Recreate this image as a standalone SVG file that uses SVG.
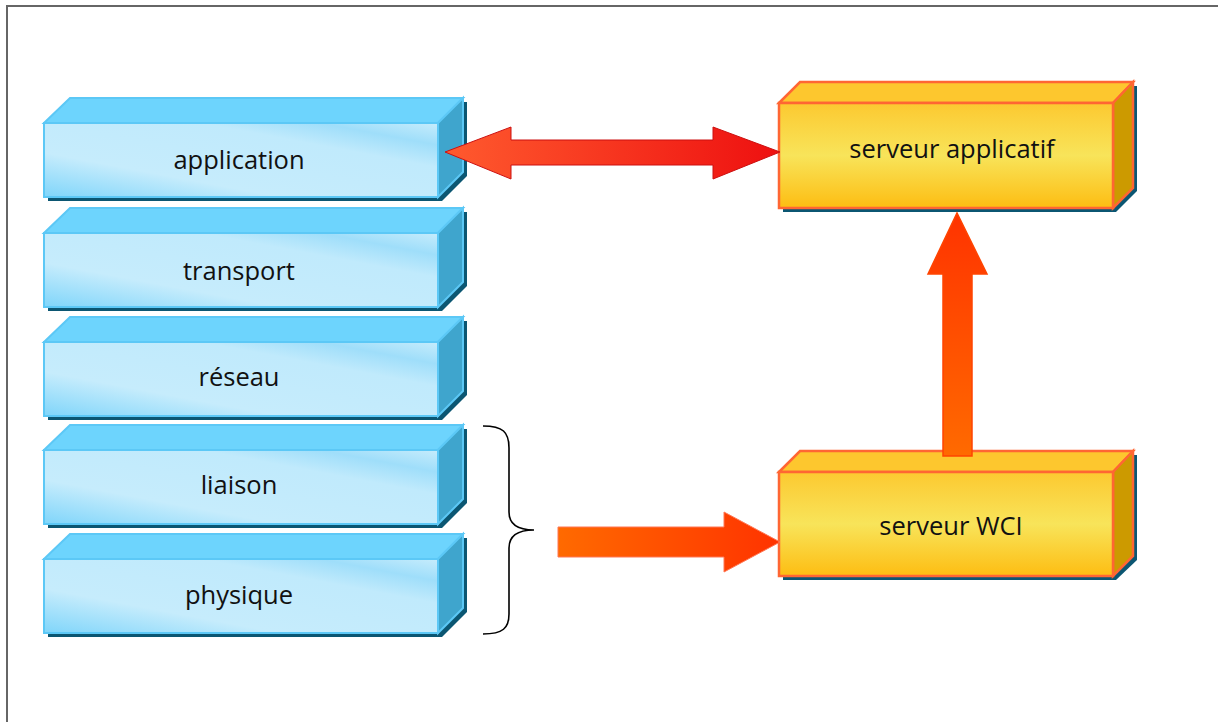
<svg xmlns="http://www.w3.org/2000/svg" width="1218" height="722" viewBox="0 0 1218 722">
<defs>
<linearGradient id="blueFront" x1="0" y1="1" x2="1" y2="0">
<stop offset="0" stop-color="#7fd5fa"/>
<stop offset="0.3" stop-color="#c6ecfc"/>
<stop offset="0.7" stop-color="#c0eafc"/>
<stop offset="0.85" stop-color="#9fdefa"/>
<stop offset="1" stop-color="#c6ecfc"/>
</linearGradient>
<linearGradient id="yellowFront" x1="0" y1="0" x2="0" y2="1">
<stop offset="0" stop-color="#fcc930"/>
<stop offset="0.5" stop-color="#f8e45a"/>
<stop offset="1" stop-color="#fdbd12"/>
</linearGradient>
<linearGradient id="dblArrow" x1="0" y1="0" x2="1" y2="0">
<stop offset="0" stop-color="#ff5a2e"/>
<stop offset="1" stop-color="#ee1010"/>
</linearGradient>
<linearGradient id="upArrow" x1="0" y1="1" x2="0" y2="0">
<stop offset="0" stop-color="#ff6a00"/>
<stop offset="1" stop-color="#ff3300"/>
</linearGradient>
<linearGradient id="rArrow" x1="0" y1="0" x2="1" y2="0">
<stop offset="0" stop-color="#ff6a00"/>
<stop offset="1" stop-color="#ff3300"/>
</linearGradient>
</defs>
<style>
.shadow{fill:#0b5672}
.bfront{fill:url(#blueFront);stroke:#5cc8f6;stroke-width:2}
.btop{fill:#6dd4fd;stroke:#5cc8f6;stroke-width:2}
.bside{fill:#3fa5cd;stroke:#5cc8f6;stroke-width:2}
.yfront{fill:url(#yellowFront);stroke:#ff6633;stroke-width:2.5}
.ytop{fill:#fdc72e;stroke:#ff6633;stroke-width:2.5}
.yside{fill:#cc9a00;stroke:#ff6633;stroke-width:2.5}
.lbl{font-family:"Open Sans","Noto Sans",sans-serif;font-size:25.5px;fill:#111;text-anchor:middle}
</style>
<rect x="7" y="6" width="1230" height="740" fill="#ffffff" stroke="#666666" stroke-width="2"/>

<g id="application">
<polygon class="shadow" points="48,127 74,102 467,102 467,176 442,201 48,201"/>
<polygon class="btop" points="44,123 70,98 463,98 438,123"/>
<polygon class="bside" points="438,123 463,98 463,172 438,197"/>
<rect class="bfront" x="44" y="123" width="394" height="74"/>
<text class="lbl" x="239" y="169">application</text>
</g>
<g id="transport">
<polygon class="shadow" points="48,237 74,212 467,212 467,286 442,311 48,311"/>
<polygon class="btop" points="44,233 70,208 463,208 438,233"/>
<polygon class="bside" points="438,233 463,208 463,282 438,307"/>
<rect class="bfront" x="44" y="233" width="394" height="74"/>
<text class="lbl" x="239" y="280">transport</text>
</g>
<g id="reseau">
<polygon class="shadow" points="48,346 74,321 467,321 467,395 442,420 48,420"/>
<polygon class="btop" points="44,342 70,317 463,317 438,342"/>
<polygon class="bside" points="438,342 463,317 463,391 438,416"/>
<rect class="bfront" x="44" y="342" width="394" height="74"/>
<text class="lbl" x="239" y="386">réseau</text>
</g>
<g id="liaison">
<polygon class="shadow" points="48,454 74,429 467,429 467,503 442,528 48,528"/>
<polygon class="btop" points="44,450 70,425 463,425 438,450"/>
<polygon class="bside" points="438,450 463,425 463,499 438,524"/>
<rect class="bfront" x="44" y="450" width="394" height="74"/>
<text class="lbl" x="239" y="494">liaison</text>
</g>
<g id="physique">
<polygon class="shadow" points="48,563 74,538 467,538 467,612 442,637 48,637"/>
<polygon class="btop" points="44,559 70,534 463,534 438,559"/>
<polygon class="bside" points="438,559 463,534 463,608 438,633"/>
<rect class="bfront" x="44" y="559" width="394" height="74"/>
<text class="lbl" x="239" y="604">physique</text>
</g>

<g id="serveur-applicatif">
<polygon class="shadow" points="783,107 804,86 1137,86 1137,191 1116,212 783,212"/>
<polygon class="ytop" points="779,103 800,82 1133,82 1113,103"/>
<polygon class="yside" points="1113,103 1133,82 1133,188 1113,208"/>
<rect class="yfront" x="779" y="103" width="334" height="105"/>
<text class="lbl" x="952" y="158">serveur applicatif</text>
</g>
<g id="serveur-wci">
<polygon class="shadow" points="783,476 804,455 1137,455 1137,560 1116,580 783,580"/>
<polygon class="ytop" points="779,472 800,451 1133,451 1113,472"/>
<polygon class="yside" points="1113,472 1133,451 1133,556 1113,576"/>
<rect class="yfront" x="779" y="472" width="334" height="104"/>
<text class="lbl" x="951" y="535">serveur WCI</text>
</g>

<g id="connectors">
<polygon points="445,152 511,127 511,140 713,140 713,127 780,152 713,179 713,165 511,165 511,179" fill="url(#dblArrow)" stroke="#cc1010" stroke-width="1"/>
<polygon points="943,456 943,274 928,274 957,213 987,274 972,274 972,456" fill="url(#upArrow)" stroke="#ff4400" stroke-width="1.5"/>
<polygon points="558,527 724,527 724,512 780,542 724,572 724,557 558,557" fill="url(#rArrow)" stroke="#ff7755" stroke-width="1"/>
<path d="M483,426 C503,426 509,432 509,448 L509,512 C509,524 518,530 534,530 C518,530 509,536 509,548 L509,614 C509,628 503,634 483,634" fill="none" stroke="#000" stroke-width="1.6"/>
</g>
</svg>
